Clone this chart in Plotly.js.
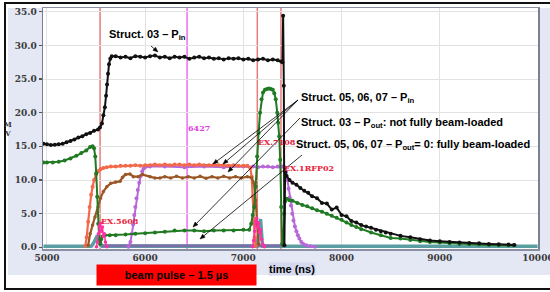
<!DOCTYPE html>
<html>
<head>
<meta charset="utf-8">
<script src="https://cdn.plot.ly/plotly-3.0.1.min.js"></script>
<style>html,body{margin:0;padding:0;background:#fff;}#chart{width:550px;height:292px;}</style>
</head>
<body>
<div id="chart"></div>
<script>
// ---- Struct. 03 – P_in (black) ----
const tIn03 = [4965,5000,5040,5080,5120,5160,5200,5240,5280,5320,5360,5400,5440,5480,5520,5540,5560,5575,5590,5602,5612,5622,5632,5645,5660,
  5700,5750,5800,5850,5900,5950,6000,6050,6100,6150,6200,6250,6300,6350,6400,6450,6500,6550,6600,6650,6700,6750,6800,6850,6900,6950,7000,7050,7100,7150,7200,7250,7300,7350,7385,7398,
  7405,7412,7418,7425,7440,7470,7500,7540,7580,7620,7660,7700,7750,7800,7850,7900,7950,8000,8050,8100,8150,8200,8250,8300,8350,8400,8450,8500,8600,8700,8800,8900,9000,9100,9200,9300,9400,9500,9600,9700,9760];
const pIn03 = [15.4,15.3,15.2,15.25,15.3,15.4,15.6,15.8,16.0,16.3,16.5,16.8,17.0,17.3,17.5,17.8,18.4,19.6,20.8,22.5,24.2,25.8,27.2,28.0,28.4,
  28.4,28.2,28.3,28.1,28.4,28.3,28.2,28.4,28.5,28.2,28.3,28.1,28.3,28.2,28.3,28.0,28.2,28.3,28.1,28.2,28.0,28.1,27.9,28.1,28.0,28.1,27.9,28.0,27.8,27.9,28.0,27.8,27.9,27.8,27.6,27.5,
  34.4,24.0,0.3,11.2,10.6,10.0,9.6,9.3,8.8,8.4,8.1,7.6,7.3,6.6,6.5,5.6,5.9,4.8,4.6,3.9,3.7,3.3,3.1,2.9,2.6,2.4,2.2,2.0,1.7,1.5,1.2,1.0,0.9,0.8,0.7,0.65,0.6,0.5,0.45,0.4,0.35];

// ---- Struct. 03 – P_out (green) ----
const tOut03 = [4965,5000,5060,5120,5180,5240,5300,5350,5400,5440,5465,5480,5492,5502,5512,5522,5532,5541,5552,5565,5590,5640,5700,5800,5900,6000,6100,6200,6300,6400,6500,6600,6700,6800,6900,7000,7060,
  7080,7095,7110,7125,7140,7155,7170,7185,7200,7220,7240,7260,7280,7300,7315,7330,7345,7355,7365,7375,7385,7395,7405,7415,7425,7440,7470,7500,7550,7600,7650,7700,7750,7800,7850,7900,7950,8000,8050,8100,8150,8200,8300,8400,8500,8600,8700,8800,8900,9000,9100,9200,9300,9400,9500,9600,9700,9750];
const pOut03 = [12.6,12.6,12.6,12.7,12.9,13.2,13.6,14.0,14.4,14.9,15.0,14.7,13.5,11.0,7.5,3.5,1.2,0.5,1.2,1.6,1.8,1.8,1.8,1.9,2.0,2.1,2.2,2.3,2.5,2.5,2.5,2.4,2.5,2.5,2.5,2.6,2.6,
  3.5,4.8,6.0,9.0,13.5,17.0,20.0,22.0,23.0,23.4,23.5,23.6,23.5,23.4,22.9,22.0,20.0,18.5,16.5,13.0,6.0,0.5,0.3,5.0,6.8,7.2,7.0,6.9,6.6,6.3,6.1,5.8,5.5,5.3,5.0,4.7,4.4,4.1,3.7,3.3,3.0,2.7,2.2,1.8,1.4,1.3,1.1,0.9,0.8,0.7,0.6,0.5,0.45,0.4,0.35,0.3,0.3,0.3];

// ---- Struct. 05 / 06 / 07 – P_in ----
const tIn05 = [5390,5405,5420,5435,5450,5465,5480,5500,5520,5545,5575,5610,5650,5700,5750,5800,5850,5900,5950,6000,6050,6100,6150,6200,6250,6300,6350,6400,6450,6500,6550,6600,6650,6700,6750,6800,6850,6900,6950,7000,7040,7070,7085,7095,7105,7115,7125];
const pIn05 = [0.2,1.5,3.8,6.0,7.8,9.0,10.0,10.8,11.3,11.6,11.8,11.9,12.0,12.0,12.1,12.1,12.1,12.2,12.1,12.2,12.2,12.3,12.2,12.3,12.2,12.3,12.3,12.2,12.3,12.2,12.3,12.2,12.2,12.3,12.2,12.2,12.1,12.2,12.1,12.1,12.1,11.8,10.5,7.5,4.0,1.5,0.2];

const tIn06 = [5420,5440,5465,5490,5520,5545,5575,5610,5650,5700,5745,5770,5800,5845,5880,5930,5975,6050,6100,6150,6200,6260,6320,6380,6440,6500,6560,6620,6680,6740,6800,6860,6920,6980,7040,7085,7110,7125,7140,7155];
const pIn06 = [0.3,2.0,3.3,4.5,6.0,7.3,8.3,9.0,9.5,9.7,9.8,10.4,10.8,10.9,10.5,10.5,10.8,10.5,10.3,10.3,10.5,10.3,10.55,10.3,10.5,10.3,10.55,10.25,10.5,10.3,10.55,10.3,10.5,10.3,10.5,10.3,9.5,7.0,3.5,0.5];

const tIn07 = [5830,5850,5865,5878,5890,5900,5912,5925,5940,5955,5970,5985,6000,6050,6200,6400,6600,6800,7000,7100,7150,7200,7250,7300,7350,7400,7420,7435,7448,7460,7472,7485,7498,7510,7525,7540,7555,7570,7590,7610,7640,7680,7730];
const pIn07 = [0.1,0.8,2.0,3.4,4.8,6.0,7.3,8.5,9.6,10.6,11.3,11.7,11.9,12.0,12.0,11.9,12.0,11.9,12.0,12.0,11.9,12.0,12.0,11.9,12.0,12.0,11.9,11.2,10.0,8.7,7.4,6.2,5.0,4.0,3.1,2.4,1.8,1.3,0.8,0.5,0.3,0.15,0.1];

// ---- beam pick-up signals ----
const tPick = [5505,5515,5525,5535,5545,5555,5565,5575,5585,5595,5610,null,7095,7105,7115,7125,7135,7145,7155,7165,7175,7185,7200,7215];
const pPick = [0.1,0.8,2.0,3.2,3.6,2.4,3.0,1.6,2.0,0.8,0.1,null,0.1,1.0,2.4,3.8,4.3,3.0,3.6,2.2,2.6,1.2,0.4,0.1];

// ---- Struct. 05, 06, 07 – P_out = 0 ----
const tOut0a = [4965,5300,5450,5470,5485,5500,5515,5530,5545,5560,7140,7155,7165,7175,7185,7195,7400,8000,9000,9995];
const pOut0a = [0.15,0.15,0.15,0.5,1.0,1.5,1.8,1.2,0.5,0.15,0.15,1.5,3.2,4.2,2.0,0.15,0.15,0.15,0.15,0.15];
const tOut0b = [5560,6000,6500,7000,7420];
const pOut0b = [0.25,0.25,0.25,0.25,0.25];

// ---- cursors / markers ----
const markerTimes = [5541,7142,7383];
const markerLabels = ['EX.5608','EX.7108','EX.1RFP02'];
const markerLabelY = [3.9,15.6,11.8];
const markerLabelX = [5541,7138,7400];
const cursorTime = 6427;
const cursorLabel = '6427';
const cursorLabelY = 17.7;

const xTicks = [5000,6000,7000,8000,9000,10000];

const traces = [
  {x:tOut0a,y:pOut0a,mode:'lines',line:{color:'#5b9ea2',width:3.5},hoverinfo:'skip'},
  {x:tOut0b,y:pOut0b,mode:'lines',line:{color:'#7a70a8',width:3},hoverinfo:'skip'},
  {x:tIn07,y:pIn07,mode:'lines+markers',line:{color:'#b867d8',width:2},marker:{size:4,color:'#b867d8'}},
  {x:tIn05,y:pIn05,mode:'lines+markers',line:{color:'#f2684a',width:2.2},marker:{size:4,color:'#f2684a'}},
  {x:tIn06,y:pIn06,mode:'lines+markers',line:{color:'#9b5626',width:2.2},marker:{size:3.5,color:'#9b5626'}},
  {x:tOut03,y:pOut03,mode:'lines+markers',line:{color:'#1f7a22',width:2},marker:{size:4,color:'#1f7a22'}},
  {x:tPick,y:pPick,mode:'lines+markers',connectgaps:false,line:{color:'#ff2fa3',width:1.5},marker:{size:3.5,color:'#ff2fa3'}},
  {x:tIn03,y:pIn03,mode:'lines+markers',line:{color:'#111111',width:2},marker:{size:4,color:'#111111'}}
];

// pixel helpers for paper coordinates (plot area 43..538 x 8..249)
const px = v => (v-43)/495;
const py = v => (249-v)/241;

const shapes = [
  {type:'rect',xref:'paper',yref:'paper',x0:-0.2,x1:px(8),y0:-0.3,y1:1.2,fillcolor:'#ffffff',line:{width:0},layer:'below'},
  {type:'rect',xref:'paper',yref:'paper',x0:-0.2,x1:1.2,y0:1.0,y1:1.2,fillcolor:'#ffffff',line:{width:0},layer:'below'},
  {type:'rect',xref:'paper',yref:'paper',x0:-0.2,x1:1.2,y0:-0.3,y1:py(275),fillcolor:'#ffffff',line:{width:0},layer:'below'},
  {type:'rect',xref:'paper',yref:'paper',x0:px(5),x1:px(570),y0:py(289),y1:py(3),fillcolor:'rgba(0,0,0,0)',line:{color:'#111',width:2},layer:'above'}
];
markerTimes.forEach(t => shapes.push({type:'line',xref:'x',yref:'paper',x0:t,x1:t,y0:0,y1:1,line:{color:'#e87c7c',width:1.5},layer:'below'}));
shapes.push({type:'line',xref:'x',yref:'paper',x0:cursorTime,x1:cursorTime,y0:0,y1:1,line:{color:'#ee6cee',width:1.5},layer:'below'});

// pointer arrows drawn as line + triangular head: [headX, headY, tailX, tailY] in pixels
const arrows = [[158,52,151,46],[213,164,298,100],[223,164,298,100],[228,172,298,100],[193,227,300,118],[200,239,302,155]];
arrows.forEach(a => {
  const [hx,hy,tx,ty] = a;
  const len = Math.hypot(hx-tx,hy-ty), dx=(hx-tx)/len, dy=(hy-ty)/len;
  const L=5, W=2;
  const bx=hx-dx*L, by=hy-dy*L;
  shapes.push({type:'line',xref:'paper',yref:'paper',x0:px(tx),y0:py(ty),x1:px(bx),y1:py(by),line:{color:'#000',width:0.8},layer:'above'});
  const p1=[bx-dy*W,by+dx*W], p2=[bx+dy*W,by-dx*W];
  shapes.push({type:'path',xref:'paper',yref:'paper',
    path:`M ${px(hx)} ${py(hy)} L ${px(p1[0])} ${py(p1[1])} L ${px(p2[0])} ${py(p2[1])} Z`,
    fillcolor:'#000',line:{color:'#000',width:0.5},layer:'above'});
});

const lblFont = {family:'Liberation Sans, Arial, sans-serif',size:11,color:'#000',weight:'bold'};
const annotations = [
  {xref:'paper',yref:'paper',x:px(108),y:py(35),xanchor:'left',yanchor:'middle',text:'Struct. 03 – P<sub>in</sub>',showarrow:false,font:lblFont,borderpad:0},
  {xref:'paper',yref:'paper',x:px(300),y:py(98),xanchor:'left',yanchor:'middle',text:'Struct. 05, 06, 07 – P<sub>in</sub>',showarrow:false,font:lblFont,borderpad:0},
  {xref:'paper',yref:'paper',x:px(300),y:py(123),xanchor:'left',yanchor:'middle',text:'Struct. 03 – P<sub>out</sub>: not fully beam-loaded',showarrow:false,font:lblFont,borderpad:0},
  {xref:'paper',yref:'paper',x:px(295),y:py(145),xanchor:'left',yanchor:'middle',text:'Struct. 05, 06, 07 – P<sub>out</sub>= 0: fully beam-loaded',showarrow:false,font:lblFont,borderpad:0},
  {xref:'paper',yref:'paper',x:px(176.5),y:py(275),xanchor:'center',yanchor:'middle',text:'beam pulse – 1.5 \u00b5s',showarrow:false,font:lblFont,bgcolor:'#ff0000',width:159,height:20,borderpad:0},
  {xref:'paper',yref:'paper',x:px(292),y:py(268.5),xanchor:'center',yanchor:'middle',text:'time (ns)',showarrow:false,font:lblFont,bgcolor:'#d4d9ef',borderpad:0},
  {xref:'paper',yref:'paper',x:px(8),y:py(128.5),xanchor:'center',yanchor:'middle',text:'M<br>V',showarrow:false,font:{family:'DejaVu Serif',size:7,color:'#333',weight:'bold'}}
];
markerLabels.forEach((s,i) => annotations.push({xref:'x',yref:'y',x:markerLabelX[i],y:markerLabelY[i],xanchor:'left',yanchor:'middle',text:s,showarrow:false,font:{family:'DejaVu Serif',size:8,color:'#e8203a',weight:'bold'},borderpad:0}));
annotations.push({xref:'x',yref:'y',x:cursorTime,y:cursorLabelY,xanchor:'left',yanchor:'middle',text:cursorLabel,showarrow:false,font:{family:'DejaVu Serif',size:8,color:'#e040e0',weight:'bold'},borderpad:0});

const tickFont = {family:'DejaVu Serif',size:9,color:'#3a3a3a',weight:'bold'};
const layout = {
  width:550,height:292,
  margin:{l:43,r:12,t:8,b:43,pad:0},
  paper_bgcolor:'#e4e7f4',plot_bgcolor:'#ffffff',
  showlegend:false,
  xaxis:{range:[4960,10000],tickvals:xTicks,ticktext:xTicks.map(String),showgrid:true,gridcolor:'#e2e2e2',gridwidth:1,zeroline:false,
    showline:true,linecolor:'#8a8fa3',linewidth:1.5,mirror:true,ticks:'',tickfont:tickFont,ticklabeloverflow:'allow'},
  yaxis:{range:[-0.25,35.55],tick0:0,dtick:5,tickformat:'.1f',showgrid:true,gridcolor:'#e2e2e2',gridwidth:1,zeroline:false,
    showline:true,linecolor:'#7a7f93',linewidth:1.5,mirror:true,ticks:'outside',ticklen:3,tickwidth:1.5,tickcolor:'#555',tickfont:tickFont},
  shapes:shapes,
  annotations:annotations
};
Plotly.newPlot('chart',traces,layout,{staticPlot:true,displayModeBar:false});
</script>
</body>
</html>
